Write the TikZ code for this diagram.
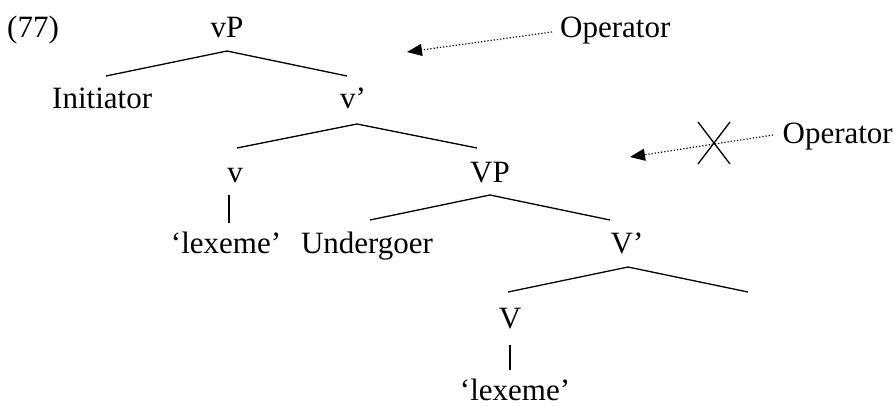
\documentclass[tikz,border=0pt]{standalone}
\usepackage{fontspec}
\setmainfont{Liberation Serif}
\usetikzlibrary{arrows.meta}
\begin{document}
\begin{tikzpicture}[x=1pt,y=-1pt,
  lbl/.style={inner sep=0pt,anchor=base,font=\fontsize{31}{36}\selectfont},
  br/.style={line width=1.3pt},
  opar/.style={dotted,line width=1.2pt,-{Triangle[length=15pt,width=12pt]}}]
\useasboundingbox (0,0) rectangle (894,405);
\node[lbl,anchor=base west] (num) at (7,37) {(77)};
\node[lbl] (vP) at (227,37) {vP};
\node[lbl,anchor=base west] (ini) at (52,108) {Initiator};
\node[lbl] (vbar) at (353,108) {v’};
\node[lbl] (v) at (235,182) {v};
\node[lbl] (VP) at (490,182) {VP};
\node[lbl] (lex1) at (226,253) {‘lexeme’};
\node[lbl] (und) at (367,253) {Undergoer};
\node[lbl] (Vbar) at (627,253) {V’};
\node[lbl] (V) at (510,328) {V};
\node[lbl] (lex2) at (515,400) {‘lexeme’};
\node[lbl,anchor=base west] (op1) at (560,37) {Operator};
\node[lbl,anchor=base east] (op2) at (893,143) {Operator};
% branches
\coordinate (a1) at (227,51); \coordinate (l1) at (106,76); \coordinate (r1) at (347,76);
\draw[br] (l1) -- (a1) -- (r1);
\coordinate (a2) at (357,124); \coordinate (l2) at (237,148); \coordinate (r2) at (477,148);
\draw[br] (l2) -- (a2) -- (r2);
\coordinate (a3) at (490,195); \coordinate (l3) at (370,220); \coordinate (r3) at (610,220);
\draw[br] (l3) -- (a3) -- (r3);
\coordinate (a4) at (628,267); \coordinate (l4) at (508,292); \coordinate (r4) at (748,292);
\draw[br] (l4) -- (a4) -- (r4);
\draw[br] (229,195) -- (229,223);
\draw[br] (510,345) -- (510,370);
% arrows
\coordinate (s1) at (552,32); \coordinate (t1) at (407,52);
\draw[opar] (s1) -- (t1);
\coordinate (s2) at (773,135); \coordinate (t2) at (630,157);
\draw[opar] (s2) -- (t2);
\coordinate (xc) at (714,143);
\draw[br] (xc) ++(-16,-21) -- ++(32,42);
\draw[br] (xc) ++(16,-21) -- ++(-32,42);
\end{tikzpicture}
\end{document}
